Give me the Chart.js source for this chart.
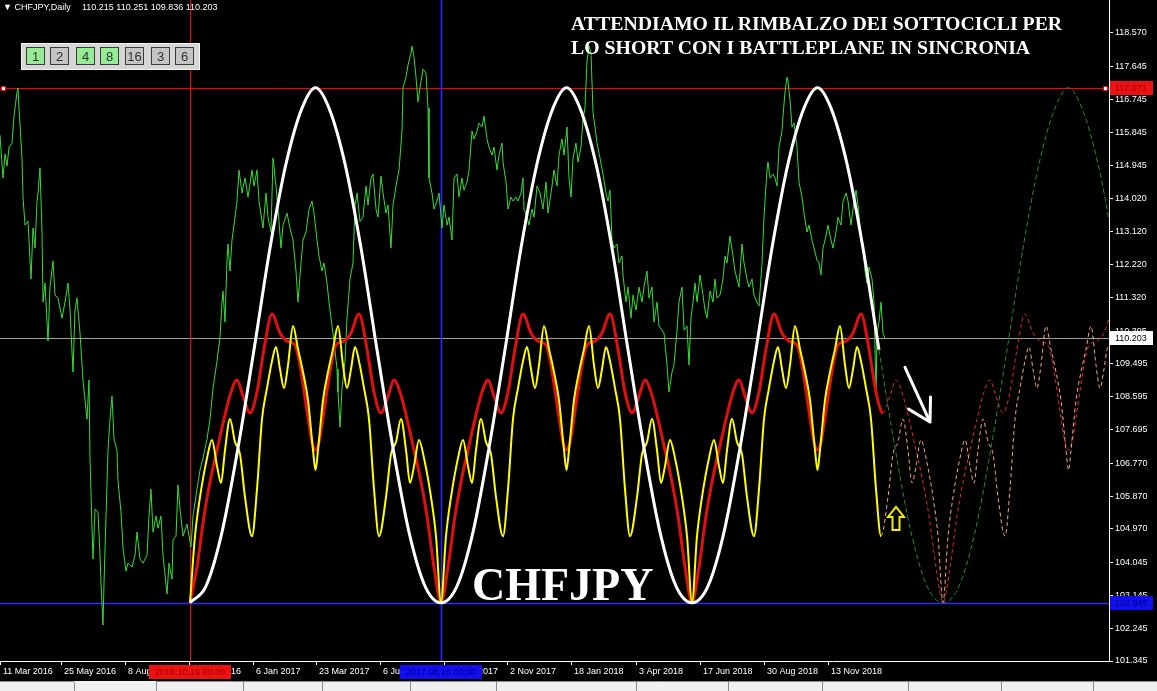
<!DOCTYPE html>
<html>
<head>
<meta charset="utf-8">
<script src="https://cdn.jsdelivr.net/npm/chart.js@4.4.0/dist/chart.umd.min.js"></script>
<style>
  html, body { margin: 0; padding: 0; background: #000; }
  #wrap { position: relative; width: 1157px; height: 691px; overflow: hidden; }
  #wrap canvas { position: absolute; left: 0; top: 0; }
  #hdr { position: absolute; left: 3px; top: 2px; color: #fff; font: 9px "Liberation Sans", Arial, sans-serif; white-space: pre; }
  #hdr .ohlc { position: absolute; left: 79px; top: 0; }
  #panel { position: absolute; left: 21px; top: 43px; width: 177px; height: 25px; background: #d6d6d6; border: 1px solid #f4f4f4; }
  .btn { position: absolute; top: 3px; height: 18px; border: 1px solid #3a3a3a; font: 13px "Liberation Sans", Arial, sans-serif; color: #333; text-align: center; line-height: 17px; box-sizing: border-box; }
  #title { position: absolute; left: 571px; top: 11px; color: #fff; font: bold 19.8px "Liberation Serif", serif; line-height: 24px; white-space: nowrap; }
  #big { position: absolute; left: 472px; top: 560px; color: #fff; font: bold 46px "Liberation Serif", serif; line-height: 50px; }
</style>
</head>
<body>
<div id="wrap">
  <canvas id="chart" width="1157" height="691"></canvas>
  <div id="hdr">▼ CHFJPY,Daily<span class="ohlc"></span></div>
  <div id="panel"></div>
  <div id="title">ATTENDIAMO IL RIMBALZO DEI SOTTOCICLI PER<br>LO SHORT CON I BATTLEPLANE IN SINCRONIA</div>
  <div id="big">CHFJPY</div>
</div>
<script>
// last bar: open, high, low, close
const ohlc = [110.215, 110.251, 109.836, 110.203];

// price axis
const yTicks = [118.570, 117.645, 116.745, 115.845, 114.945, 114.020, 113.120, 112.220, 111.320, 110.395,
                109.495, 108.595, 107.695, 106.770, 105.870, 104.970, 104.045, 103.145, 102.245, 101.345];
const yMin = 101.345, yMax = 119.475;

// time axis (bar positions)
const xTickPos = [0, 61, 125, 189, 253, 316, 380, 444, 507, 571, 636, 700, 764, 828];
const xTickText = ["11 Mar 2016", "25 May 2016", "8 Aug 2016", "21 Oct 2016", "6 Jan 2017", "23 Mar 2017", "6 Jun 2017",
                   "18 Aug 2017", "2 Nov 2017", "18 Jan 2018", "3 Apr 2018", "17 Jun 2018", "30 Aug 2018", "13 Nov 2018"];
const xMax = 1109;

// CHFJPY daily close (bar position, price)
const priceX = [0,3,5,7,9,12,14,17,18,19,22,23,25,28,31,33,35,37,38,40,42,43,45,48,50,53,55,58,62,65,68,70,73,75,77,80,83,85,87,89,
  90,92,93,95,98,100,101,103,104,106,108,110,112,114,117,118,121,123,126,128,132,135,137,140,143,147,149,151,153,156,158,161,163,167,169,172,173,176,178,
  180,183,187,191,193,197,200,203,207,210,213,217,218,220,222,223,225,227,228,230,232,234,237,239,242,245,248,252,254,257,259,263,266,268,271,273,276,278,
  281,283,287,290,293,296,298,301,303,306,309,312,314,317,319,322,324,327,329,332,334,337,338,340,342,345,347,350,353,355,357,
  360,363,366,368,371,373,376,378,381,383,386,388,391,393,396,399,402,403,406,408,411,412,414,416,418,421,423,426,428,429,432,434,437,439,442,444,447,449,
  452,454,457,459,462,464,467,469,472,474,477,479,482,484,487,489,492,494,497,499,502,503,506,508,511,513,516,518,521,523,524,527,529,532,534,537,
  540,543,546,548,552,554,557,559,562,564,567,569,571,573,576,578,581,583,585,587,589,591,593,595,597,600,603,606,608,610,612,614,617,619,622,623,626,628,
  631,633,636,639,642,644,647,649,652,654,657,659,662,664,667,669,672,674,677,679,682,684,687,689,691,693,695,697,700,703,705,707,710,713,715,717,
  720,723,725,727,730,733,735,737,739,742,744,747,749,752,754,757,759,762,764,767,768,770,773,775,777,779,782,783,785,787,788,790,792,794,797,799,
  802,804,807,809,812,814,817,819,821,823,826,828,831,833,836,838,841,843,846,848,851,853,856,858,861,863,865,867,869,872,874,876,877,879,881,883,885];
const priceY = [115.77,114.59,115.25,114.92,115.44,115.55,116.29,116.95,117.06,116.51,115.14,114.07,113.30,113.41,111.82,113.22,112.67,113.96,114.18,114.87,
  113.11,111.19,111.71,110.12,111.60,112.32,111.38,111.30,110.75,111.19,111.71,110.97,109.27,110.97,111.30,110.34,109.05,108.50,107.98,109.05,
  106.91,104.99,104.14,105.51,105.43,104.25,103.48,102.33,103.48,105.32,107.13,107.98,108.61,107.43,107.13,106.28,105.43,104.44,103.81,104.03,
  103.92,104.25,104.88,104.14,104.03,104.25,105.32,106.06,104.88,105.32,104.99,105.32,104.25,103.18,104.03,103.59,104.66,104.77,106.17,
  105.51,104.77,105.10,104.47,105.32,106.06,106.58,106.91,107.43,107.98,108.83,109.57,109.79,110.23,111.19,111.49,110.64,112.34,112.78,112.04,
  112.89,113.30,113.96,114.81,114.18,114.59,114.07,114.81,114.37,114.81,113.96,113.22,114.18,113.52,113.11,115.14,114.37,113.74,
  112.67,113.30,113.63,113.22,112.89,112.04,111.19,112.26,112.89,113.11,113.74,113.96,113.63,112.89,112.45,112.04,112.26,111.71,111.19,110.53,
  110.12,109.35,108.72,107.76,108.83,109.57,110.75,111.82,112.26,113.85,114.18,
  113.40,113.52,114.37,113.85,114.59,114.70,113.74,113.52,114.65,114.18,113.63,113.85,112.67,113.85,114.37,114.81,115.88,117.06,117.36,117.69,
  118.02,118.21,117.91,117.36,116.68,117.25,117.58,117.47,116.51,114.59,114.18,113.74,113.96,114.18,113.22,113.85,113.30,113.52,
  112.89,114.59,114.70,114.07,114.59,114.26,114.48,114.81,115.88,115.66,115.88,116.10,115.99,116.29,115.66,115.44,115.22,115.44,114.81,115.22,
  115.55,115.03,114.48,113.74,114.07,113.96,114.07,113.96,114.18,114.59,113.74,113.52,113.30,113.74,113.52,114.37,
  114.18,113.74,114.48,113.63,114.37,114.81,114.37,115.22,115.66,115.22,115.99,114.59,114.07,115.14,115.55,115.03,115.44,116.21,116.51,117.80,
  118.21,118.02,116.40,115.99,115.55,115.14,114.70,114.18,113.96,114.26,112.89,112.67,112.78,112.26,112.45,111.93,111.19,111.60,
  110.75,111.38,110.97,111.60,111.19,111.60,112.04,111.30,111.60,110.64,111.19,110.53,110.42,110.34,109.46,108.72,109.27,109.46,110.42,111.19,
  111.60,110.42,110.53,109.46,110.75,111.19,111.71,111.19,111.93,111.38,110.97,110.75,111.49,111.19,111.82,111.30,
  111.38,111.82,112.45,112.26,113.00,112.45,112.04,111.82,111.60,112.78,112.26,111.82,111.60,111.82,111.38,111.19,111.08,112.26,113.52,114.81,
  115.03,114.59,114.70,114.59,114.37,115.44,115.88,116.29,116.95,117.36,117.25,116.73,115.99,116.10,115.44,114.48,
  114.07,113.63,113.11,113.30,112.89,112.67,112.34,112.26,111.93,112.67,113.00,113.30,112.89,112.67,113.11,113.52,113.30,113.96,114.18,113.96,
  113.30,113.74,114.26,113.85,113.00,112.67,112.04,111.71,112.15,111.82,111.19,108.61,110.34,110.64,111.19,110.34,110.20];

// cycle troughs (bar positions) and one cycle of each line, read as offset from the trough
const cycleTroughs = [190, 441, 692, 943];
const lastBar = 883; // after this the cycles are projected (dashed)
const whiteOffset = [0, 16, 32, 48, 64, 80, 96, 112, 125.5, 139, 155, 171, 187, 203, 219, 235, 251];
const whiteValue = [102.945, 103.40, 104.88, 107.19, 109.88, 112.67, 114.98, 116.51, 117.071, 116.51, 114.98, 112.67, 109.88, 107.19, 104.88, 103.40, 102.945];
const redOffset = [0, 7, 14, 21, 27, 34, 41, 47, 53, 60, 67, 74, 82, 90, 97, 105, 110, 117, 122, 125.5,
                   129, 134, 141, 146, 154, 161, 169, 177, 184, 191, 198, 204, 210, 217, 224, 230, 237, 244, 251];
const redValue = [102.945, 103.92, 105.32, 106.39, 107.13, 107.98, 108.72, 109.05, 108.61, 108.15, 108.72, 109.90, 110.86, 110.34, 110.12, 110.01, 109.46, 108.20, 107.35, 107.13,
                  107.35, 108.20, 109.46, 110.01, 110.12, 110.34, 110.86, 109.90, 108.72, 108.15, 108.61, 109.05, 108.72, 107.98, 107.13, 106.39, 105.32, 103.92, 102.945];
const yellowOffset = [0, 5, 10, 17, 22, 27, 31, 35, 40, 45, 50, 55, 62, 67, 72, 77, 82, 86, 90, 94, 98, 103, 108, 113, 118, 123, 125.5,
                      128, 133, 138, 143, 148, 153, 157, 161, 165, 169, 174, 179, 184, 189, 196, 201, 206, 211, 216, 220, 224, 229, 234, 241, 246, 251];
const yellowValue = [102.945, 104.77, 105.84, 106.91, 107.41, 106.69, 106.23, 107.13, 107.98, 107.35, 107.02, 105.84, 104.77, 106.06, 107.98, 108.83, 109.57, 109.96, 109.35, 108.83, 109.46, 110.53, 109.90, 109.27, 108.50, 107.13, 106.58,
                     107.13, 108.50, 109.27, 109.90, 110.53, 109.46, 108.83, 109.35, 109.96, 109.57, 108.83, 107.98, 106.06, 104.77, 105.84, 107.02, 107.35, 107.98, 107.13, 106.23, 106.69, 107.41, 106.91, 105.84, 104.77, 102.945];

// horizontal levels and vertical markers
const levelPrices = [117.071, 110.203, 102.945];
const markerBars = [190, 441];
const markerDates = ["2016.10.19 00:00", "2017.08.16 00:00"];

// cycle buttons of the indicator panel
const cycleButtons = ["1", "2", "4", "8", "16", "3", "6"];
const cycleActive = [true, false, true, true, false, false, false];

// notes drawn on the chart: white arrow (bar, price) tail -> tip, yellow arrow tip/base
const downArrow = [[905, 109.40], [930, 107.90]];
const upArrow = [[896, 105.57], [896, 104.94]];

document.querySelector('#hdr .ohlc').textContent = ohlc.map(v => v.toFixed(3)).join(' ');
const panel = document.getElementById('panel');
const btnLeft = [4, 28, 54, 78, 103, 129, 153];
cycleButtons.forEach((t, i) => {
  const b = document.createElement('div');
  b.className = 'btn';
  b.textContent = t;
  b.style.left = btnLeft[i] + 'px';
  b.style.width = '19px';
  b.style.background = cycleActive[i] ? '#94ec94' : '#c4c4c4';
  panel.appendChild(b);
});

function cycleLine(offset, value) {
  const pts = [];
  cycleTroughs.forEach((t, k) => {
    offset.forEach((d, i) => {
      if (k > 0 && i === 0) return;
      pts.push({ x: t + d, y: value[i] });
    });
  });
  return pts;
}

function projected(color, width, dash) {
  const after = ctx => ctx.p1.parsed.x > lastBar;
  return {
    borderColor: ctx => after(ctx) ? color : undefined,
    borderWidth: ctx => after(ctx) ? width : undefined,
    borderDash: ctx => after(ctx) ? dash : undefined
  };
}

const AXIS_FONT = { family: '"Liberation Sans", Arial, sans-serif', size: 9 };

const decor = {
  id: 'decor',
  beforeDraw(chart) {
    const { ctx, width, height } = chart;
    ctx.save();
    ctx.fillStyle = '#000';
    ctx.fillRect(0, 0, width, height);
    // terminal tab strip
    ctx.fillStyle = '#f0f0f0';
    ctx.fillRect(0, 681, width, 10);
    ctx.strokeStyle = '#8c8c8c';
    ctx.lineWidth = 1;
    ctx.beginPath();
    ctx.moveTo(0, 681.5); ctx.lineTo(74, 681.5);
    ctx.moveTo(156, 681.5); ctx.lineTo(width, 681.5);
    [74, 156, 243, 322, 410, 496, 636, 728, 822, 908, 1001, 1093].forEach(px => {
      ctx.moveTo(px + 0.5, 682); ctx.lineTo(px + 0.5, 691);
    });
    ctx.stroke();
    ctx.restore();
  },
  beforeDatasetsDraw(chart) {
    const { ctx, chartArea: a, scales: { x, y } } = chart;
    ctx.save();
    const levelColor = ['#ff0000', '#a0a0a0', '#2b2bff'];
    const levelWidth = [1, 1, 1.6];
    levelPrices.forEach((p, i) => {
      const py = Math.round(y.getPixelForValue(p)) + 0.5;
      ctx.strokeStyle = levelColor[i];
      ctx.lineWidth = levelWidth[i];
      ctx.beginPath(); ctx.moveTo(a.left, py); ctx.lineTo(a.right, py); ctx.stroke();
    });
    const markColor = ['#ff0000', '#2b2bff'];
    const markWidth = [1, 1.6];
    markerBars.forEach((b, i) => {
      const px = Math.round(x.getPixelForValue(b)) + 0.5;
      ctx.strokeStyle = markColor[i];
      ctx.lineWidth = markWidth[i];
      ctx.beginPath(); ctx.moveTo(px, a.top); ctx.lineTo(px, a.bottom); ctx.stroke();
    });
    // anchors of the red level
    const ry = Math.round(y.getPixelForValue(levelPrices[0]));
    ctx.lineWidth = 1;
    ctx.fillStyle = '#fff';
    ctx.strokeStyle = '#ff0000';
    [1, a.right - 6].forEach(px => { ctx.fillRect(px, ry - 2, 5, 5); ctx.strokeRect(px + 0.5, ry - 1.5, 4, 4); });
    ctx.restore();
  },
  afterDraw(chart) {
    const { ctx, chartArea: a, scales: { x, y } } = chart;
    ctx.save();
    ctx.font = '9px "Liberation Sans", Arial, sans-serif';
    ctx.textBaseline = 'middle';
    // price boxes on the right axis
    const boxBg = ['#ee1111', '#ffffff', '#1010ee'];
    const boxFg = ['#9a0000', '#000000', '#00008a'];
    levelPrices.forEach((p, i) => {
      const py = Math.round(y.getPixelForValue(p));
      ctx.fillStyle = boxBg[i];
      ctx.fillRect(a.right + 1, py - 7, 43, 14);
      ctx.fillStyle = boxFg[i];
      ctx.textAlign = 'left';
      ctx.fillText(p.toFixed(3), a.right + 6, py + 0.5);
    });
    // date boxes on the time axis
    const dBg = ['#ee1111', '#1010ee'];
    const dFg = ['#a00000', '#00008a'];
    markerBars.forEach((b, i) => {
      const px = Math.round(x.getPixelForValue(b));
      ctx.fillStyle = dBg[i];
      ctx.fillRect(px - 41, 665, 82, 14);
      ctx.fillStyle = dFg[i];
      ctx.textAlign = 'center';
      ctx.fillText(markerDates[i], px, 672.5);
    });
    // white arrow
    const t0 = [x.getPixelForValue(downArrow[0][0]), y.getPixelForValue(downArrow[0][1])];
    const t1 = [x.getPixelForValue(downArrow[1][0]), y.getPixelForValue(downArrow[1][1])];
    const ang = Math.atan2(t1[1] - t0[1], t1[0] - t0[0]);
    ctx.strokeStyle = '#fff';
    ctx.lineWidth = 3;
    ctx.lineCap = 'round';
    ctx.beginPath();
    ctx.moveTo(t0[0], t0[1]); ctx.lineTo(t1[0], t1[1]);
    [-0.6, 0.45].forEach(d => {
      ctx.moveTo(t1[0], t1[1]);
      ctx.lineTo(t1[0] - 25 * Math.cos(ang + d), t1[1] - 25 * Math.sin(ang + d));
    });
    ctx.stroke();
    // yellow hollow arrow
    const ux = x.getPixelForValue(upArrow[0][0]);
    const uTop = y.getPixelForValue(upArrow[0][1]);
    const uBot = y.getPixelForValue(upArrow[1][1]);
    ctx.strokeStyle = '#f0f000';
    ctx.lineWidth = 2;
    ctx.lineJoin = 'miter';
    ctx.beginPath();
    ctx.moveTo(ux, uTop);
    ctx.lineTo(ux + 8, uTop + 10);
    ctx.lineTo(ux + 3.5, uTop + 10);
    ctx.lineTo(ux + 3.5, uBot);
    ctx.lineTo(ux - 3.5, uBot);
    ctx.lineTo(ux - 3.5, uTop + 10);
    ctx.lineTo(ux - 8, uTop + 10);
    ctx.closePath();
    ctx.stroke();
    ctx.restore();
  }
};

new Chart(document.getElementById('chart').getContext('2d'), {
  type: 'line',
  data: {
    datasets: [
      {
        label: 'Ciclo 16',
        data: cycleLine(whiteOffset, whiteValue),
        borderColor: '#ffffff',
        borderWidth: 3,
        cubicInterpolationMode: 'monotone',
        segment: projected('#2a8c2a', 1, [5, 3])
      },
      {
        label: 'Ciclo 4',
        data: cycleLine(yellowOffset, yellowValue),
        borderColor: '#ffff00',
        borderWidth: 2,
        cubicInterpolationMode: 'monotone',
        segment: projected('#f2ac7a', 1, [4, 3])
      },
      {
        label: 'Ciclo 8',
        data: cycleLine(redOffset, redValue),
        borderColor: '#e01010',
        borderWidth: 3,
        cubicInterpolationMode: 'monotone',
        segment: projected('#e02a2a', 1, [4, 3])
      },
      {
        label: 'CHFJPY',
        data: priceX.map((v, i) => ({ x: v, y: priceY[i] })),
        borderColor: '#36dc36',
        borderWidth: 1,
        tension: 0
      }
    ]
  },
  options: {
    responsive: false,
    animation: false,
    devicePixelRatio: 1,
    layout: { padding: 0 },
    elements: { point: { radius: 0 } },
    plugins: { legend: { display: false }, tooltip: { enabled: false }, title: { display: false } },
    scales: {
      x: {
        type: 'linear',
        position: 'bottom',
        min: 0,
        max: xMax,
        afterBuildTicks: s => { s.ticks = xTickPos.map(v => ({ value: v })); },
        afterFit: s => { s.height = 30; s.paddingLeft = 0; s.paddingRight = 0; },
        ticks: {
          autoSkip: false,
          maxRotation: 0,
          align: 'start',
          labelOffset: 3,
          padding: 1,
          color: '#ffffff',
          font: AXIS_FONT,
          callback: (v, i) => xTickText[i]
        },
        grid: { drawOnChartArea: false, drawTicks: true, tickLength: 4, color: '#ffffff' },
        border: { display: true, color: '#ffffff', width: 1 }
      },
      y: {
        type: 'linear',
        position: 'right',
        min: yMin,
        max: yMax,
        afterBuildTicks: s => { s.ticks = yTicks.map(v => ({ value: v })); },
        afterFit: s => { s.width = 48; s.paddingTop = 0; s.paddingBottom = 0; },
        ticks: {
          autoSkip: false,
          padding: 2,
          color: '#ffffff',
          font: AXIS_FONT,
          callback: v => v.toFixed(3)
        },
        grid: { drawOnChartArea: false, drawTicks: true, tickLength: 4, color: '#ffffff' },
        border: { display: true, color: '#ffffff', width: 1 }
      }
    }
  },
  plugins: [decor]
});
</script>
</body>
</html>
